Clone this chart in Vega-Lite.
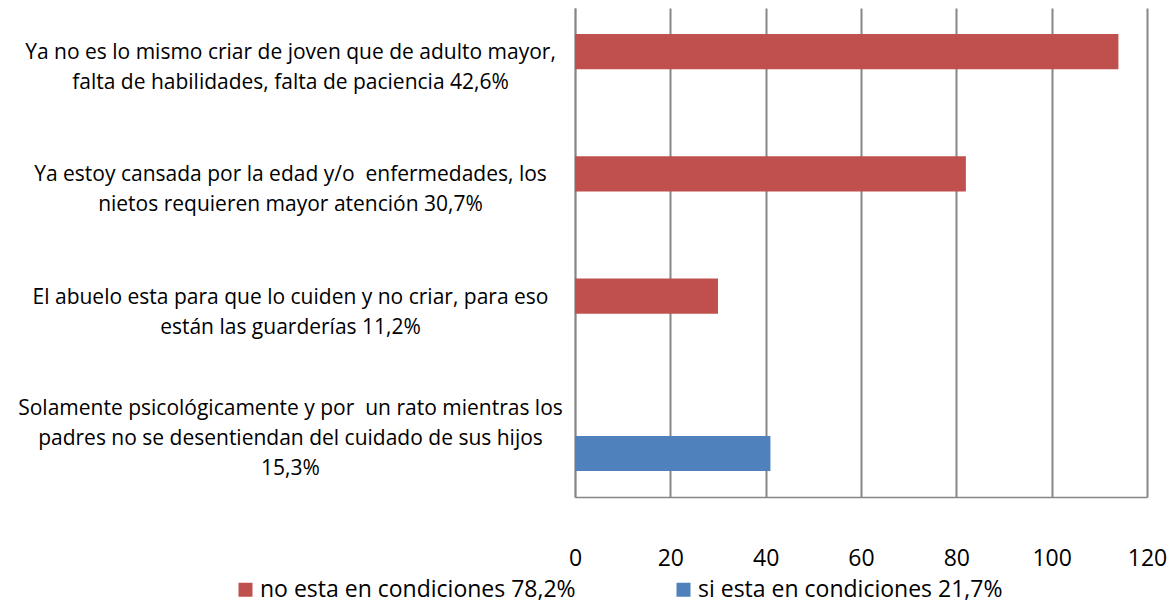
{
  "$schema": "https://vega.github.io/schema/vega-lite/v6.json",
  "autosize": {"type": "none"},
  "width": 572,
  "height": 489,
  "padding": {"left": 575, "top": 8, "right": 29, "bottom": 106},
  "background": "white",
  "config": {
    "font": "Open Sans",
    "view": {"stroke": null}
  },
  "data": {
    "values": [
      {"cat": "Ya no es lo mismo criar de joven que de adulto mayor,|falta de habilidades, falta de paciencia 42,6%", "serie": "no esta en condiciones 78,2%", "valor": 114},
      {"cat": "Ya estoy cansada por la edad y/o\u00a0 enfermedades, los|nietos requieren mayor atención 30,7%", "serie": "no esta en condiciones 78,2%", "valor": 82},
      {"cat": "El abuelo esta para que lo cuiden y no criar, para eso|están las guarderías 11,2%", "serie": "no esta en condiciones 78,2%", "valor": 30},
      {"cat": "Solamente psicológicamente y por\u00a0 un rato mientras los|padres no se desentiendan del cuidado de sus hijos|15,3%", "serie": "si esta en condiciones 21,7%", "valor": 41}
    ]
  },
  "mark": {"type": "bar"},
  "encoding": {
    "y": {
      "field": "cat",
      "type": "nominal",
      "sort": null,
      "scale": {"paddingInner": 0, "paddingOuter": 0},
      "axis": {
        "title": null,
        "ticks": false,
        "labelAlign": "center",
        "labelBaseline": "middle",
        "labelPadding": 285,
        "labelLimit": 700,
        "labelFontSize": 21,
        "labelColor": "#000000",
        "labelLineHeight": 30,
        "labelOffset": {"condition": {"test": "indexof(datum.value, '15,3') >= 0", "value": -27}, "value": -16},
        "labelExpr": "split(datum.value, '|')",
        "domainColor": "#868686",
        "domainWidth": 1.5
      }
    },
    "yOffset": {
      "field": "serie",
      "type": "nominal",
      "sort": ["no esta en condiciones 78,2%", "si esta en condiciones 21,7%"],
      "scale": {"paddingInner": 0, "paddingOuter": 0.74}
    },
    "x": {
      "field": "valor",
      "type": "quantitative",
      "scale": {"domain": [0, 120], "nice": false},
      "axis": {
        "title": null,
        "values": [0, 20, 40, 60, 80, 100, 120],
        "ticks": false,
        "labelPadding": 50,
        "labelFontSize": 23,
        "labelColor": "#000000",
        "labelFlush": false,
        "grid": true,
        "gridColor": "#868686",
        "gridWidth": 2,
        "domainColor": "#868686",
        "domainWidth": 1.5
      }
    },
    "color": {
      "field": "serie",
      "type": "nominal",
      "scale": {
        "domain": ["no esta en condiciones 78,2%", "si esta en condiciones 21,7%"],
        "range": ["#C0504D", "#4F81BD"]
      },
      "legend": {
        "title": null,
        "orient": "none",
        "direction": "horizontal",
        "legendX": -341,
        "legendY": 570,
        "padding": 0,
        "symbolType": "square",
        "symbolSize": 196,
        "symbolStrokeWidth": 0,
        "symbolOpacity": 1,
        "labelFontSize": 23,
        "labelColor": "#000000",
        "labelOffset": 3,
        "labelLimit": 500,
        "columnPadding": 96
      }
    }
  }
}
